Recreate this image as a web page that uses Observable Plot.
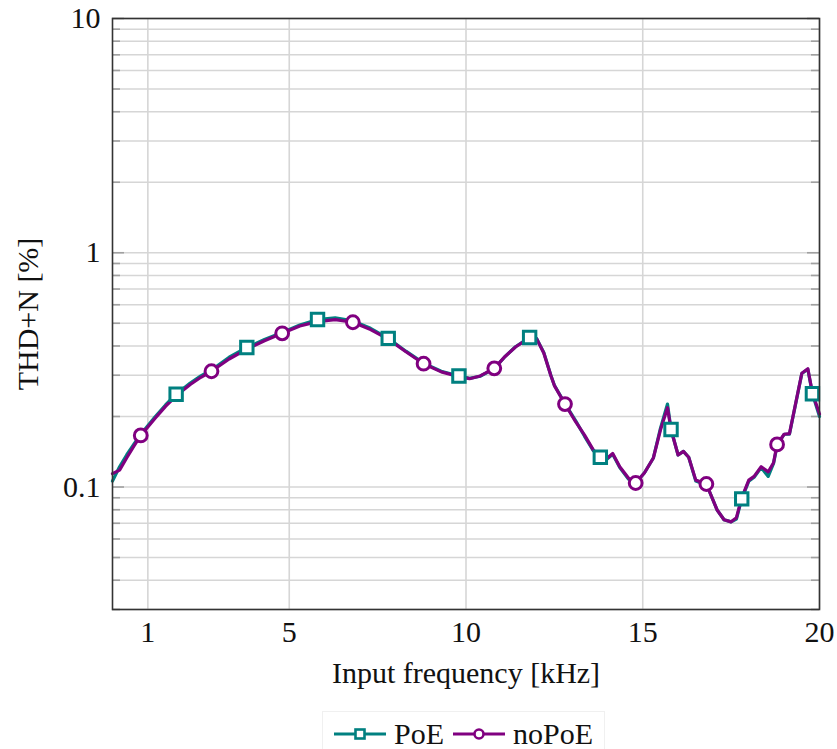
<!DOCTYPE html>
<html>
<head>
<meta charset="utf-8">
<script src="https://cdn.jsdelivr.net/npm/d3@7"></script>
<script src="https://cdn.jsdelivr.net/npm/@observablehq/plot@0.6"></script>
<style>
  html, body { margin: 0; padding: 0; background: #fff; }
  #wrap { position: relative; width: 837px; height: 749px; font-family: "Liberation Serif", serif; }
  #legend { position: absolute; left: 322px; top: 711px; width: 283px; height: 44px;
            border: 1px solid #f0f0f0; border-bottom: none; display: flex; align-items: center;
            font-size: 30px; color: #111; box-sizing: border-box; padding-left: 11px; padding-top: 0px; }
  #legend .item { display: flex; align-items: center; }
  #legend svg { display: block; }
</style>
</head>
<body>
<div id="wrap">
  <div id="chart"></div>
  <div id="legend"></div>
</div>
<script>
// ---- data ----
const freq  = [0, 0.2, 0.4, 0.6, 0.8, 1.2, 1.5, 1.8, 2.2, 2.5,
               2.8, 3.3, 3.8, 4.3, 4.8, 5.3, 5.8, 6.3, 6.8, 7.3,
               7.8, 8.3, 8.8, 9.3, 9.8, 10.1, 10.4, 10.8, 11.1, 11.4,
               11.8, 12.0, 12.2, 12.4, 12.5, 12.8, 13.1, 13.35, 13.6, 13.8,
               14.0, 14.15, 14.35, 14.6, 14.8, 15.05, 15.3, 15.5, 15.7, 15.8,
               16.0, 16.15, 16.3, 16.5, 16.65, 16.8, 17.1, 17.3, 17.5, 17.65,
               17.8, 18.0, 18.15, 18.35, 18.55, 18.7, 18.8, 19.0, 19.15, 19.5,
               19.67, 19.8, 20];
const poe   = [0.106, 0.122, 0.137, 0.152, 0.168, 0.199, 0.224, 0.249, 0.278, 0.298,
               0.316, 0.358, 0.394, 0.426, 0.457, 0.492, 0.519, 0.527, 0.512, 0.476,
               0.431, 0.380, 0.338, 0.312, 0.298, 0.291, 0.297, 0.320, 0.360, 0.397,
               0.435, 0.430, 0.375, 0.300, 0.272, 0.227, 0.192, 0.165, 0.143, 0.134,
               0.132, 0.138, 0.121, 0.108, 0.104, 0.115, 0.133, 0.178, 0.226, 0.176,
               0.137, 0.142, 0.134, 0.106, 0.104, 0.103, 0.080, 0.0725, 0.071, 0.073,
               0.089, 0.106, 0.110, 0.121, 0.111, 0.126, 0.150, 0.168, 0.168, 0.305,
               0.318, 0.250, 0.200];
const nopoe = [0.114, 0.118, 0.133, 0.149, 0.166, 0.196, 0.221, 0.245, 0.274, 0.294,
               0.312, 0.352, 0.388, 0.421, 0.453, 0.487, 0.508, 0.518, 0.505, 0.470,
               0.428, 0.378, 0.336, 0.310, 0.296, 0.290, 0.298, 0.321, 0.360, 0.396,
               0.434, 0.429, 0.373, 0.299, 0.271, 0.226, 0.190, 0.167, 0.144, 0.134,
               0.133, 0.139, 0.122, 0.109, 0.104, 0.115, 0.133, 0.175, 0.218, 0.176,
               0.137, 0.142, 0.134, 0.107, 0.105, 0.103, 0.080, 0.0725, 0.071, 0.074,
               0.090, 0.107, 0.111, 0.122, 0.116, 0.127, 0.152, 0.168, 0.169, 0.306,
               0.320, 0.252, 0.205];
const poeMarkFreq   = [1.8, 3.8, 5.8, 7.8, 9.8, 11.8, 13.8, 15.8, 17.8, 19.8];
const nopoeMarkFreq = [0.8, 2.8, 4.8, 6.8, 8.8, 10.8, 12.8, 14.8, 16.8, 18.8];
const seriesNames = ["PoE", "noPoE"];
const xTicks = [1, 5, 10, 15, 20];
const xTickLabels = ["1", "5", "10", "15", "20"];
const yTicks = [0.1, 1, 10];
const yTickLabels = ["0.1", "1", "10"];
const yMinor = [0.03, 0.04, 0.05, 0.06, 0.07, 0.08, 0.09,
                0.2, 0.3, 0.4, 0.5, 0.6, 0.7, 0.8, 0.9,
                2, 3, 4, 5, 6, 7, 8, 9];
const xLabel = "Input frequency [kHz]";
const yLabel = "THD+N [%]";

// ---- styles ----
const TEAL = "#008080", PURPLE = "#800080";
const GRID = "#d6d6d6", TICK = "#a0a0a0";
const W = 837, H = 700, ML = 112, MR = 18, MT = 18, MB = 91;
const innerW = W - ML - MR;

const rowsPoe = freq.map((f, i) => ({f, v: poe[i]}));
const rowsNo  = freq.map((f, i) => ({f, v: nopoe[i]}));
const marksPoe = rowsPoe.filter(d => poeMarkFreq.includes(d.f));
const marksNo  = rowsNo.filter(d => nopoeMarkFreq.includes(d.f));
const yAll = yTicks.concat(yMinor);
const yLabelRows = yTicks.map((v, i) => ({v, t: yTickLabels[i]}));
const xLabelRows = xTicks.map((v, i) => ({v, t: xTickLabels[i]}));

const chart = Plot.plot({
  width: W, height: H,
  marginLeft: ML, marginRight: MR, marginTop: MT, marginBottom: MB,
  style: {fontFamily: "'Liberation Serif', serif", fontSize: "30px", background: "white", color: "#111"},
  x: {domain: [0, 20], axis: null},
  y: {type: "log", domain: [0.03, 10], axis: null},
  marks: [
    Plot.gridY(yAll, {stroke: GRID, strokeOpacity: 1, strokeWidth: 1.6}),
    Plot.gridX(xTicks, {stroke: GRID, strokeOpacity: 1, strokeWidth: 1.6}),
    // inward tick marks (left and right)
    Plot.ruleY(yMinor, {stroke: TICK, strokeWidth: 1.6, insetRight: innerW - 8}),
    Plot.ruleY(yMinor, {stroke: TICK, strokeWidth: 1.6, insetLeft: innerW - 8}),
    Plot.ruleY(yTicks, {stroke: TICK, strokeWidth: 1.6, insetRight: innerW - 12}),
    Plot.ruleY(yTicks, {stroke: TICK, strokeWidth: 1.6, insetLeft: innerW - 12}),
    // tick labels
    Plot.text(xLabelRows, {x: "v", text: "t", frameAnchor: "bottom", dy: 23, lineAnchor: "middle", textAnchor: "middle", fontSize: 30, fill: "#111"}),
    Plot.text(yLabelRows, {y: "v", text: "t", frameAnchor: "left", dx: -12, lineAnchor: "middle", textAnchor: "end", fontSize: 30, fill: "#111"}),
    // axis titles
    Plot.text([xLabel], {frameAnchor: "bottom", dy: 64, text: d => d, fontSize: 30, lineAnchor: "middle", fill: "#111"}),
    Plot.text([yLabel], {frameAnchor: "left", dx: -84, rotate: -90, text: d => d, fontSize: 30, lineAnchor: "middle", textAnchor: "middle", fill: "#111"}),
    // series
    Plot.line(rowsPoe, {x: "f", y: "v", stroke: TEAL, strokeWidth: 3.2, strokeLinejoin: "round"}),
    Plot.line(rowsNo, {x: "f", y: "v", stroke: PURPLE, strokeWidth: 3.2, strokeLinejoin: "round"}),
    Plot.dot(marksPoe, {x: "f", y: "v", symbol: "square", r: 7, stroke: TEAL, strokeWidth: 3, fill: "white"}),
    Plot.dot(marksNo, {x: "f", y: "v", symbol: "circle", r: 6.4, stroke: PURPLE, strokeWidth: 3, fill: "white"}),
    Plot.frame({stroke: "#333", strokeWidth: 1.6})
  ]
});
document.getElementById("chart").appendChild(chart);

// ---- legend ----
const legend = document.getElementById("legend");
const legendItems = [
  {name: seriesNames[0], color: TEAL, symbol: "square"},
  {name: seriesNames[1], color: PURPLE, symbol: "circle"}
];
legendItems.forEach((it, i) => {
  const item = document.createElement("div");
  item.className = "item";
  item.style.marginLeft = i === 0 ? "0px" : "9px";
  const ns = "http://www.w3.org/2000/svg";
  const svg = document.createElementNS(ns, "svg");
  svg.setAttribute("width", 52); svg.setAttribute("height", 20);
  const line = document.createElementNS(ns, "line");
  line.setAttribute("x1", 0); line.setAttribute("x2", 52);
  line.setAttribute("y1", 10); line.setAttribute("y2", 10);
  line.setAttribute("stroke", it.color); line.setAttribute("stroke-width", 3);
  svg.appendChild(line);
  let m;
  if (it.symbol === "square") {
    m = document.createElementNS(ns, "rect");
    m.setAttribute("x", 21.5); m.setAttribute("y", 5.5); m.setAttribute("width", 9); m.setAttribute("height", 9);
  } else {
    m = document.createElementNS(ns, "circle");
    m.setAttribute("cx", 26); m.setAttribute("cy", 10); m.setAttribute("r", 4.5);
  }
  m.setAttribute("fill", "white"); m.setAttribute("stroke", it.color); m.setAttribute("stroke-width", 2.6);
  svg.appendChild(m);
  item.appendChild(svg);
  const label = document.createElement("span");
  label.textContent = it.name;
  label.style.marginLeft = "8px";
  item.appendChild(label);
  legend.appendChild(item);
});
</script>
</body>
</html>
